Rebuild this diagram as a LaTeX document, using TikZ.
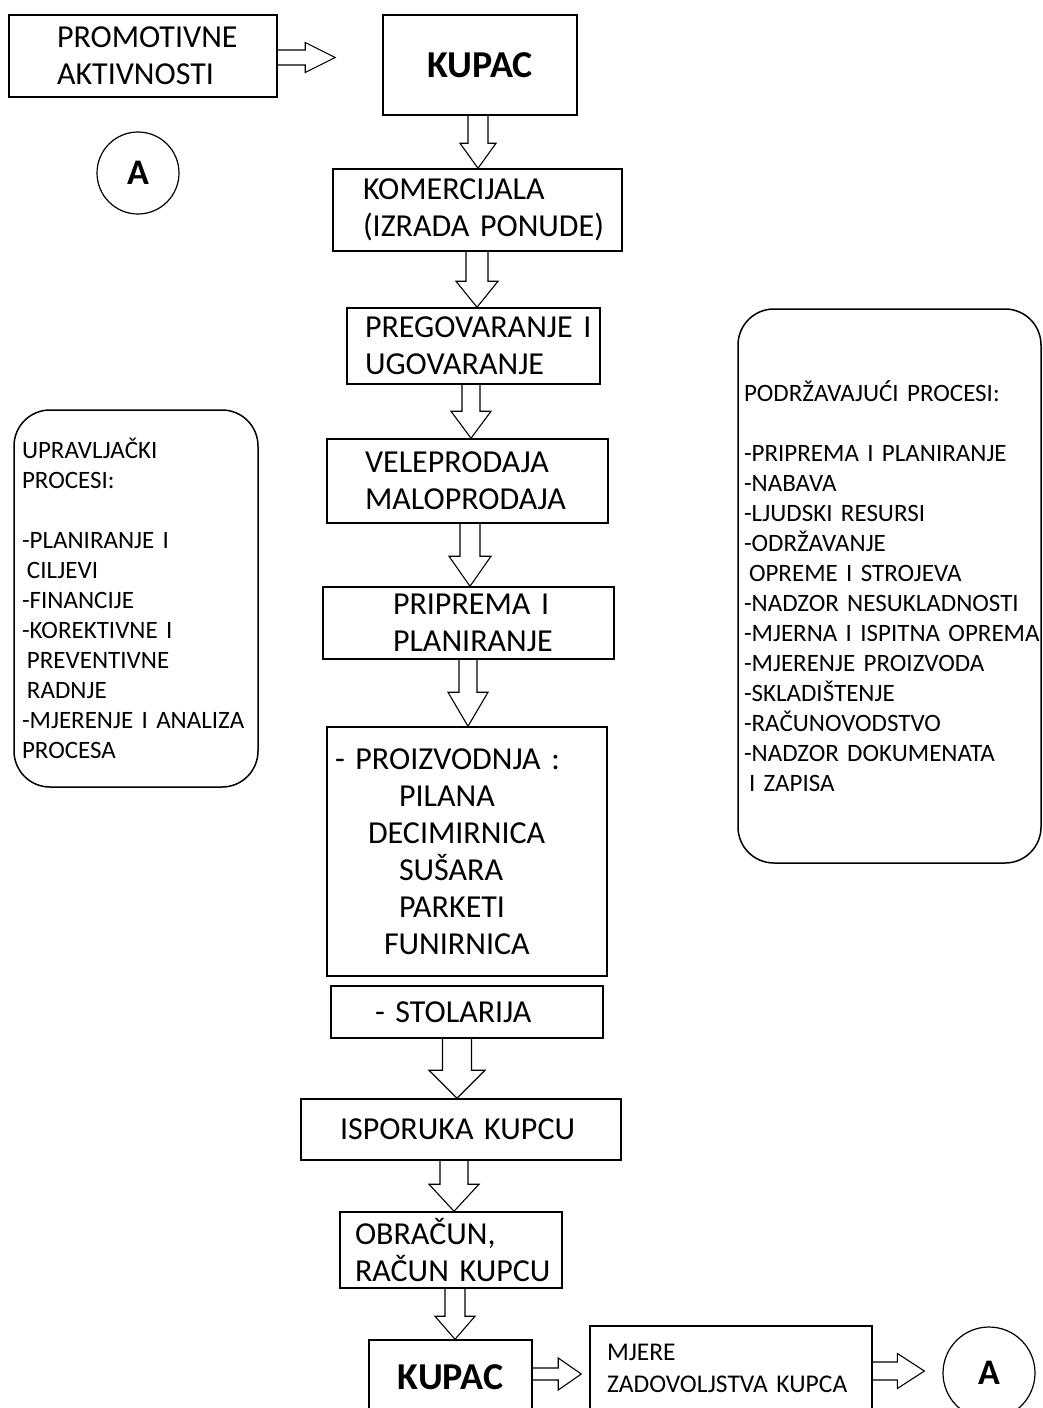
\documentclass[tikz,border=0pt]{standalone}
\usepackage{fontspec}
\setmainfont{Carlito}
\usetikzlibrary{calc}
\hyphenpenalty=10000
\exhyphenpenalty=10000
\newcommand{\boxfont}{\fontsize{32}{37}\selectfont}
\newcommand{\bigboxfont}{\fontsize{38}{40}\selectfont\bfseries}
\newcommand{\sidefont}{\fontsize{25}{30}\selectfont}
\newcommand{\smallboxfont}{\fontsize{25.5}{32}\selectfont}
\tikzset{
procbox/.style = {draw, line width=1.5pt, align=left, inner ysep=0pt, font=\boxfont},
sidebox/.style = {draw, line width=1.5pt, rounded corners=36pt, align=left, inner ysep=0pt, font=\sidefont},
linknode/.style = {circle, draw, line width=1.2pt, minimum size=#1, inner sep=0pt, font=\fontsize{36}{40}\selectfont\bfseries},
linknode/.default = 82pt,
fatarr/.style = {draw, line width=1.1pt, line join=miter}
}
% hollow block arrows: from, to, x (or y), shaft half width, head half width, head length
\newcommand{\fatdown}[6]{%
  \draw[fatarr] let \p1=(#1.south), \p2=(#2.north) in
    (#3-#4,\y1) -- (#3-#4,\y2+#6pt) -- (#3-#5,\y2+#6pt) -- (#3,\y2)
    -- (#3+#5,\y2+#6pt) -- (#3+#4,\y2+#6pt) -- (#3+#4,\y1);}
\newcommand{\fatright}[7]{% last argument: gap before the target
  \draw[fatarr] let \p1=(#1.east), \p2=(#2.west) in
    (\x1,#3-#4) -- (\x2-#7pt-#6pt,#3-#4) -- (\x2-#7pt-#6pt,#3-#5) -- (\x2-#7pt,#3)
    -- (\x2-#7pt-#6pt,#3+#5) -- (\x2-#7pt-#6pt,#3+#4) -- (\x1,#3+#4);}

\begin{document}
\begin{tikzpicture}[x=1pt, y=-1pt]
\useasboundingbox (0,0) rectangle (1043,1408);

% main flow
\node[procbox, text width=172pt, inner xsep=48pt, minimum height=82pt] (promo) at (143,56) {PROMOTIVNE\\AKTIVNOSTI};
\node[procbox, align=center, minimum width=194pt, minimum height=100pt, font=\bigboxfont] (kupac) at (480,65) {KUPAC};
\node[linknode] (linkA) at (138,173) {A};
\node[procbox, text width=229pt, inner xsep=30pt, minimum height=82pt] (komerc) at (477.5,210) {KOMERCIJALA\\(IZRADA~PONUDE)};
\node[procbox, text width=217pt, inner xsep=18pt, minimum height=76pt] (pregov) at (473.5,346) {PREGOVARANJE~I\\UGOVARANJE};
\node[procbox, text width=205pt, inner xsep=38pt, minimum height=84pt] (vele) at (467.5,481) {VELEPRODAJA\\MALOPRODAJA};
\node[procbox, text width=151pt, inner xsep=70pt, minimum height=72pt] (pripr) at (468.5,623) {PRIPREMA~I\\PLANIRANJE};
\node[procbox, text width=264pt, inner xsep=8pt, minimum height=249pt] (proiz) at (467,851.5) {-~PROIZVODNJA~:\\\hspace*{64pt}PILANA\\\hspace*{33pt}DECIMIRNICA\\\hspace*{64pt}SUŠARA\\\hspace*{64pt}PARKETI\\\hspace*{49pt}FUNIRNICA};
\node[procbox, text width=184pt, inner xsep=44pt, minimum height=52pt] (stol) at (467,1012) {-~STOLARIJA};
\node[procbox, text width=242pt, inner xsep=39pt, minimum height=61pt] (ispor) at (461,1129.5) {ISPORUKA~KUPCU};
\node[procbox, text width=192pt, inner xsep=15pt, minimum height=76pt] (obrac) at (451,1250) {OBRAČUN,\\RAČUN~KUPCU};
\node[procbox, align=center, minimum width=163pt, minimum height=74pt, font=\bigboxfont] (kupacB) at (450.5,1377) {KUPAC};
\node[procbox, font=\smallboxfont, text width=248pt, inner xsep=17pt, minimum height=84pt] (mjere) at (731,1368) {MJERE\\ZADOVOLJSTVA~KUPCA};
\node[linknode=92pt] (linkB) at (989,1373) {A};

% side processes
\node[sidebox, text width=228pt, inner xsep=8pt, minimum height=377pt] (upravlj) at (136,598.5) {UPRAVLJAČKI\\PROCESI:\\[30pt]-PLANIRANJE~I\\\hspace*{5pt}CILJEVI\\-FINANCIJE\\-KOREKTIVNE~I\\\hspace*{5pt}PREVENTIVNE\\\hspace*{5pt}RADNJE\\-MJERENJE~I~ANALIZA\\PROCESA};
\node[sidebox, text width=291pt, inner xsep=6pt, minimum height=554pt] (podrz) at (889.5,586) {PODRŽAVAJUĆI~PROCESI:\\[30pt]-PRIPREMA~I~PLANIRANJE\\-NABAVA\\-LJUDSKI~RESURSI\\-ODRŽAVANJE\\\hspace*{5pt}OPREME~I~STROJEVA\\-NADZOR~NESUKLADNOSTI\\-MJERNA~I~ISPITNA~OPREMA\\-MJERENJE~PROIZVODA\\-SKLADIŠTENJE\\-RAČUNOVODSTVO\\-NADZOR~DOKUMENATA\\\hspace*{5pt}I~ZAPISA};

% arrows
\fatright{promo}{kupac}{57.5}{7.5}{15}{30}{47}
\fatdown{kupac}{komerc}{478}{10}{18}{25}
\fatdown{komerc}{pregov}{477}{11}{21}{26}
\fatdown{pregov}{vele}{471}{9}{20}{27}
\fatdown{vele}{pripr}{470}{10}{21}{30}
\fatdown{pripr}{proiz}{468}{9}{20}{34}
\fatdown{stol}{ispor}{457}{14.5}{28}{28}
\fatdown{ispor}{obrac}{454}{14}{25}{27}
\fatdown{obrac}{kupacB}{455}{10}{20}{23}
\fatright{kupacB}{mjere}{1374}{6}{16}{23}{8}
\fatright{mjere}{linkB}{1371}{9}{17.5}{27}{18}
\end{tikzpicture}
\end{document}
